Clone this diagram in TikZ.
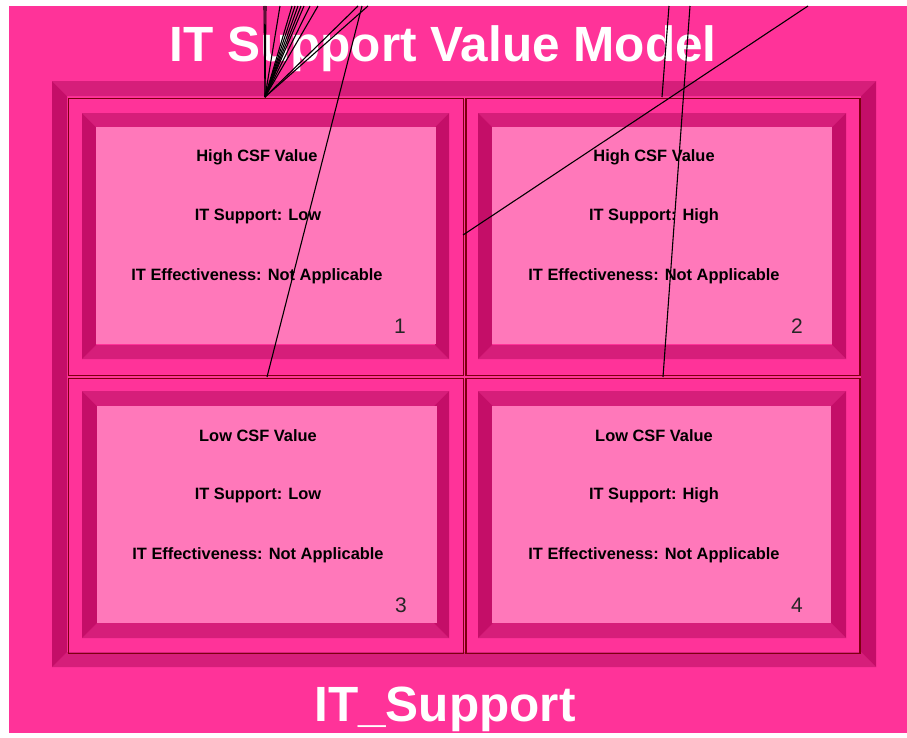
\documentclass[tikz,border=0pt]{standalone}
\usepackage{fontspec}
\setmainfont{Liberation Sans}
\definecolor{bgpink}{RGB}{255,51,153}
\definecolor{bevelmid}{RGB}{214,30,122}
\definecolor{beveldark}{RGB}{196,14,104}
\definecolor{facepink}{RGB}{255,120,186}
\definecolor{cellline}{RGB}{125,0,15}
\newcommand{\bevelframe}[5]{%
  \fill[bevelmid] (#1,#2) -- (#3,#2) -- (#3-#5,#2+#5) -- (#1+#5,#2+#5) -- cycle;
  \fill[bevelmid] (#1,#4) -- (#3,#4) -- (#3-#5,#4-#5) -- (#1+#5,#4-#5) -- cycle;
  \fill[beveldark] (#1,#2) -- (#1+#5,#2+#5) -- (#1+#5,#4-#5) -- (#1,#4) -- cycle;
  \fill[beveldark] (#3,#2) -- (#3-#5,#2+#5) -- (#3-#5,#4-#5) -- (#3,#4) -- cycle;
}
\tikzset{
  facebox/.style={fill=facepink, draw=none, inner sep=0pt, anchor=north west},
  cellbox/.style={draw=cellline, line width=1.6pt, fill=none, inner sep=0pt, anchor=north west},
  celltext/.style={font=\bfseries\fontsize{16.4}{18}\selectfont, text=black, inner sep=0pt},
  numtext/.style={font=\fontsize{21}{22}\selectfont, text=black!85, inner sep=0pt},
  titletext/.style={font=\bfseries\fontsize{49.5}{52}\selectfont, text=white, inner sep=0pt, anchor=base},
  wire/.style={draw=black, line width=1.1pt},
}
\begin{document}
\begin{tikzpicture}[x=1pt,y=-1pt]
\useasboundingbox (0,0) rectangle (907,737);
% background
\fill[bgpink] (9,6) rectangle (907,733);
% outer bevel frame
\bevelframe{52}{81}{876}{667}{15}
% cells
\node[cellbox, minimum width=395pt, minimum height=277pt] (c1) at (67.5,97.5) {};
\node[cellbox, minimum width=394pt, minimum height=277pt] (c2) at (465,97.5) {};
\node[cellbox, minimum width=395pt, minimum height=275pt] (c3) at (67.5,377.5) {};
\node[cellbox, minimum width=394pt, minimum height=275pt] (c4) at (465,377.5) {};
% inner bevels
\bevelframe{82}{113}{449}{359}{14}
\bevelframe{478}{113}{846}{359}{14}
\bevelframe{82}{391}{449}{638}{15}
\bevelframe{478}{391}{846}{638}{15}
% faces
\node[facebox, minimum width=340pt, minimum height=217pt] (f1) at (96,127) {};
\node[facebox, minimum width=340pt, minimum height=217pt] (f2) at (492,127) {};
\node[facebox, minimum width=340pt, minimum height=217pt] (f3) at (97,406) {};
\node[facebox, minimum width=339pt, minimum height=217pt] (f4) at (492,406) {};
% texts
\node[celltext] (t1a) at (257,157) {High CSF Value};
\node[celltext] (t1b) at (258,216) {IT Support: Low};
\node[celltext] (t1c) at (257,276) {IT Effectiveness: Not Applicable};
\node[numtext] (n1) at (400,326) {1};
\node[celltext] (t2a) at (654,157) {High CSF Value};
\node[celltext] (t2b) at (654,216) {IT Support: High};
\node[celltext] (t2c) at (654,276) {IT Effectiveness: Not Applicable};
\node[numtext] (n2) at (797,326) {2};
\node[celltext] (t3a) at (258,436) {Low CSF Value};
\node[celltext] (t3b) at (258,495) {IT Support: Low};
\node[celltext] (t3c) at (258,555) {IT Effectiveness: Not Applicable};
\node[numtext] (n3) at (401,605) {3};
\node[celltext] (t4a) at (654,436) {Low CSF Value};
\node[celltext] (t4b) at (654,495) {IT Support: High};
\node[celltext] (t4c) at (654,555) {IT Effectiveness: Not Applicable};
\node[numtext] (n4) at (797,605) {4};
% titles
\node[titletext] (title) at (443,61) {IT Support Value Model};
\node[titletext] (sub) at (445,721) {IT\_Support};
% connectors
\coordinate (hub) at (265,97);
\foreach \x [count=\i] in {264,266,280,292,295,298,301,304,310,318,358,368} {
  \coordinate (top\i) at (\x,6);
  \draw[wire] (hub) -- (top\i);
}
\coordinate (p2) at (662,97);
\coordinate (q2) at (669,6);
\draw[wire] (p2) -- (q2);
\coordinate (p3) at (267,377);
\coordinate (q3) at (362,6);
\draw[wire] (p3) -- (q3);
\coordinate (p4) at (663,377);
\coordinate (q4) at (690,6);
\draw[wire] (p4) -- (q4);
\coordinate (p5) at (463,235);
\coordinate (q5) at (808,6);
\draw[wire] (p5) -- (q5);
\end{tikzpicture}
\end{document}
